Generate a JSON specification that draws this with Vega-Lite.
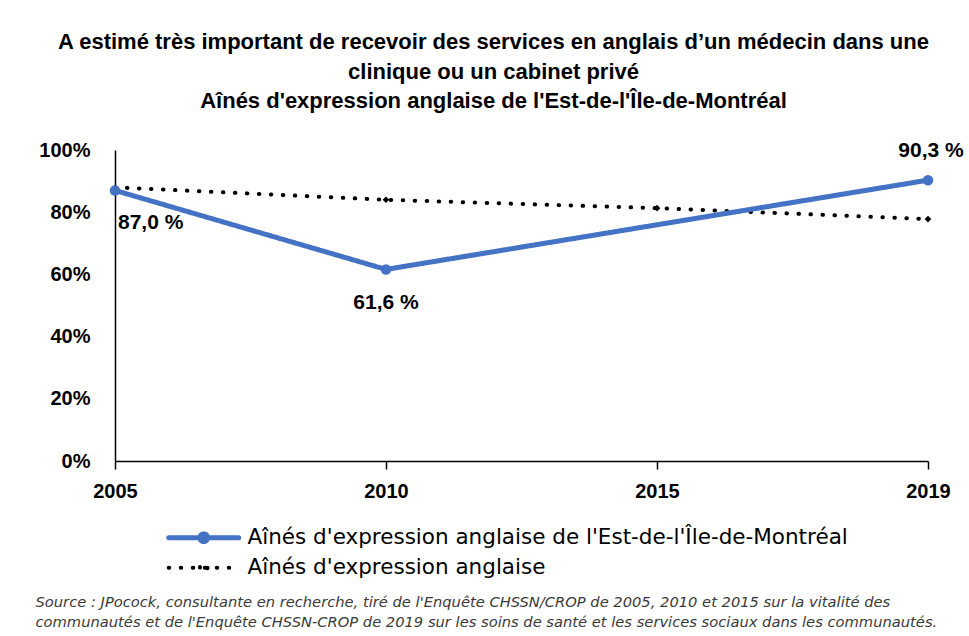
{
  "$schema": "https://vega.github.io/schema/vega-lite/v6.json",
  "width": 813,
  "height": 311,
  "autosize": {"type": "none"},
  "padding": {"left": 115, "top": 150, "right": 41, "bottom": 175},
  "background": "white",
  "config": {"view": {"stroke": null}, "font": "Liberation Sans"},
  "title": {
    "text": [
      "A estimé très important de recevoir des services en anglais  d’un médecin dans une",
      "clinique  ou un cabinet privé",
      "Aînés d'expression anglaise  de l'Est-de-l'Île-de-Montréal"
    ],
    "font": "Liberation Sans",
    "fontSize": 22,
    "fontWeight": "bold",
    "lineHeight": 29.5,
    "anchor": "middle",
    "dx": -28,
    "offset": 27,
    "color": "#000000"
  },
  "data": {
    "values": [
      {"year": "2005", "series": "Aînés d'expression anglaise", "value": 88.0, "label": ""},
      {"year": "2010", "series": "Aînés d'expression anglaise", "value": 84.0, "label": ""},
      {"year": "2015", "series": "Aînés d'expression anglaise", "value": 81.3, "label": ""},
      {"year": "2019", "series": "Aînés d'expression anglaise", "value": 77.8, "label": ""},
      {"year": "2005", "series": "Aînés d'expression anglaise de l'Est-de-l'Île-de-Montréal", "value": 87.0, "label": "87,0 %"},
      {"year": "2010", "series": "Aînés d'expression anglaise de l'Est-de-l'Île-de-Montréal", "value": 61.6, "label": "61,6 %"},
      {"year": "2019", "series": "Aînés d'expression anglaise de l'Est-de-l'Île-de-Montréal", "value": 90.3, "label": "90,3 %"}
    ]
  },
  "encoding": {
    "x": {
      "field": "year",
      "type": "ordinal",
      "scale": {"type": "point", "padding": 0, "domain": ["2005", "2010", "2015", "2019"]},
      "axis": {
        "labelAngle": 0,
        "labelFont": "Liberation Sans",
        "labelFontSize": 20,
        "labelFontWeight": "bold",
        "labelColor": "#000000",
        "labelPadding": 12,
        "domainColor": "#000000",
        "domainWidth": 1.5,
        "tickColor": "#000000",
        "tickWidth": 1.5,
        "tickSize": 8,
        "grid": false,
        "title": [
          "Source : JPocock, consultante en recherche, tiré de l'Enquête CHSSN/CROP de 2005, 2010 et 2015 sur la vitalité des",
          "communautés et de l'Enquête CHSSN-CROP de 2019 sur les soins de santé et les services sociaux dans les communautés."
        ],
        "titleFont": "DejaVu Sans",
        "titleFontSize": 14.7,
        "titleFontStyle": "italic",
        "titleFontWeight": "normal",
        "titleColor": "#3a3a3a",
        "titleAnchor": "start",
        "titleAlign": "left",
        "titleBaseline": "top",
        "titleLineHeight": 20,
        "titleX": -80,
        "titleY": 133
      }
    },
    "y": {
      "field": "value",
      "type": "quantitative",
      "scale": {"domain": [0, 100]},
      "axis": {
        "values": [0, 20, 40, 60, 80, 100],
        "labelExpr": "datum.value + '%'",
        "labelFont": "Liberation Sans",
        "labelFontSize": 20,
        "labelFontWeight": "bold",
        "labelColor": "#000000",
        "labelPadding": 25,
        "ticks": false,
        "grid": false,
        "domainColor": "#000000",
        "domainWidth": 1.5,
        "title": null
      }
    }
  },
  "layer": [
    {
      "transform": [{"filter": "datum.series == \"Aînés d'expression anglaise\""}],
      "mark": {"type": "line", "strokeCap": "round"},
      "encoding": {
        "color": {
          "field": "series", "type": "nominal",
          "scale": {"domain": ["Aînés d'expression anglaise de l'Est-de-l'Île-de-Montréal", "Aînés d'expression anglaise"], "range": ["#4472C4", "#000000"]},
          "legend": {
            "title": null,
            "orient": "none",
            "legendX": 78,
            "legendY": 377,
            "symbolType": "M-5,0H5M0.55,0A0.55,0.55 0 1,1 -0.55,0A0.55,0.55 0 1,1 0.55,0Z",
            "symbolSize": 196,
            "symbolStrokeWidth": 4,
            "labelFont": "DejaVu Sans",
            "labelFontSize": 21.5,
            "labelColor": "#000000",
            "labelOffset": 33,
            "rowPadding": 3,
            "labelLimit": 900,
            "encode": {"symbols": {"update": {"strokeCap": {"value": "round"}}}}
          }
        },
        "strokeDash": {
          "field": "series", "type": "nominal",
          "scale": {"domain": ["Aînés d'expression anglaise de l'Est-de-l'Île-de-Montréal", "Aînés d'expression anglaise"], "range": [[1, 0], [0.5, 11.5]]}
        },
        "strokeWidth": {
          "field": "series", "type": "nominal",
          "scale": {"domain": ["Aînés d'expression anglaise de l'Est-de-l'Île-de-Montréal", "Aînés d'expression anglaise"], "range": [5, 4]}
        }
      }
    },
    {
      "transform": [{"filter": "datum.series != \"Aînés d'expression anglaise\""}],
      "mark": {"type": "line", "strokeCap": "round"},
      "encoding": {
        "color": {"field": "series", "type": "nominal"},
        "strokeDash": {"field": "series", "type": "nominal"},
        "strokeWidth": {"field": "series", "type": "nominal"}
      }
    },
    {
      "transform": [{"filter": "datum.series == \"Aînés d'expression anglaise\" && datum.year != '2005'"}],
      "mark": {"type": "point", "shape": "diamond", "filled": true, "color": "#000000", "size": 45, "opacity": 1}
    },
    {
      "transform": [{"filter": "datum.series != \"Aînés d'expression anglaise\""}],
      "mark": {"type": "point", "shape": "circle", "filled": true, "color": "#4472C4", "size": 110, "opacity": 1}
    },
    {
      "transform": [{"filter": "datum.year == '2005' && datum.label != ''"}],
      "mark": {"type": "text", "align": "left", "baseline": "middle", "dx": 3, "dy": 33, "font": "Liberation Sans", "fontSize": 21, "fontWeight": "bold", "color": "#000000"},
      "encoding": {"text": {"field": "label"}}
    },
    {
      "transform": [{"filter": "datum.year == '2010' && datum.label != ''"}],
      "mark": {"type": "text", "align": "center", "baseline": "middle", "dy": 34, "font": "Liberation Sans", "fontSize": 21, "fontWeight": "bold", "color": "#000000"},
      "encoding": {"text": {"field": "label"}}
    },
    {
      "transform": [{"filter": "datum.year == '2019' && datum.label != ''"}],
      "mark": {"type": "text", "align": "center", "baseline": "middle", "dy": -29, "dx": 3, "font": "Liberation Sans", "fontSize": 21, "fontWeight": "bold", "color": "#000000"},
      "encoding": {"text": {"field": "label"}}
    }
  ]
}
